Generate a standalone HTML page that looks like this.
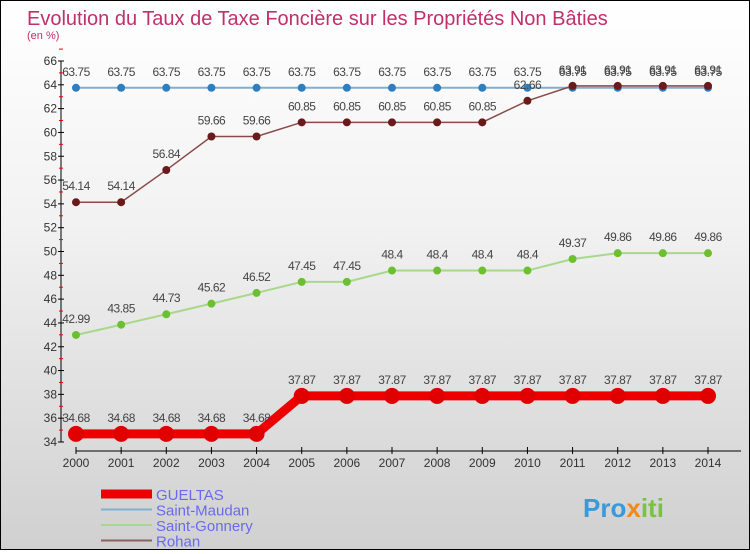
<!DOCTYPE html>
<html><head><meta charset="utf-8">
<style>
html,body{margin:0;padding:0}
body{width:750px;height:550px;overflow:hidden;font-family:"Liberation Sans",sans-serif}
#wrap{position:relative;width:748px;height:548px;border:1px solid #000;background:linear-gradient(#ffffff,#f2f2f2 40%,#d0d0d0)}
</style></head><body>
<div id="wrap">
<svg id="chart" width="748" height="548" xmlns="http://www.w3.org/2000/svg">
<text x="26" y="24" font-size="20" fill="#c0306a">Evolution du Taux de Taxe Foncière sur les Propriétés Non Bâties</text>
<text x="26" y="38" font-size="11" fill="#c0306a">(en %)</text>
<g id="axes"></g>
<g id="series"></g>
<g id="legend"></g>
<text x="582" y="516" font-size="26" font-weight="bold" fill="#3a9ad9">Pro<tspan fill="#f08a20">x</tspan><tspan fill="#7cc242">iti</tspan></text>
</svg>
</div>
<script>
const years=[2000,2001,2002,2003,2004,2005,2006,2007,2008,2009,2010,2011,2012,2013,2014];
const gueltas=[34.68,34.68,34.68,34.68,34.68,37.87,37.87,37.87,37.87,37.87,37.87,37.87,37.87,37.87,37.87];
const saintMaudan=[63.75,63.75,63.75,63.75,63.75,63.75,63.75,63.75,63.75,63.75,63.75,63.75,63.75,63.75,63.75];
const saintGonnery=[42.99,43.85,44.73,45.62,46.52,47.45,47.45,48.4,48.4,48.4,48.4,49.37,49.86,49.86,49.86];
const rohan=[54.14,54.14,56.84,59.66,59.66,60.85,60.85,60.85,60.85,60.85,62.66,63.91,63.91,63.91,63.91];
const yTicks=[34,36,38,40,42,44,46,48,50,52,54,56,58,60,62,64,66];
const NS="http://www.w3.org/2000/svg";
const X0=75,X1=707,yMin=34,yMax=66,Y0=441,Y1=60;
const xs=i=>X0+(X1-X0)*i/(years.length-1);
const ys=v=>Y0-(v-yMin)*(Y0-Y1)/(yMax-yMin);
function mk(tag,attrs,parent){const e=document.createElementNS(NS,tag);for(const k in attrs)e.setAttribute(k,attrs[k]);parent.appendChild(e);return e;}
const axes=document.getElementById('axes');
let ax=mk('line',{x1:60,y1:Y1,x2:60,y2:Y0,stroke:'#000','stroke-width':1},axes);


yTicks.forEach(t=>{
 const y=ys(t);
 const l=mk('line',{x1:57,y1:y,x2:63,y2:y,stroke:'#000'},axes);
 
 
 const m=mk('line',{x1:58,y1:ys(t+1),x2:62,y2:ys(t+1),stroke:'#e00'},axes);
 
 
 const tx=mk('text',{x:56,y:y+4,'font-size':12,'text-anchor':'end',fill:'#333'},axes);
 tx.textContent=t;
 
 
});
let xa=mk('line',{x1:X0,y1:450,x2:740,y2:450,stroke:'#000'},axes);


years.forEach((yr,i)=>{
 const x=xs(i);
 const l=mk('line',{x1:x,y1:446,x2:x,y2:453,stroke:'#000'},axes);
 
 
 const t=mk('text',{x:x,y:466,'font-size':12,'text-anchor':'middle',fill:'#333'},axes);
 t.textContent=yr;
 
 
});
const seriesG=document.getElementById('series');
const series=[
 {name:'saint-maudan',data:saintMaudan,color:'#7fb0d0',dot:'#2f7fc0',w:2,r:4},
 {name:'saint-gonnery',data:saintGonnery,color:'#a8d88a',dot:'#6cc030',w:2,r:4},
 {name:'rohan',data:rohan,color:'#8b4a4a',dot:'#6a1a1a',w:1.5,r:4},
 {name:'gueltas',data:gueltas,color:'#ee0000',dot:'#e00000',w:9,r:8}
];
series.forEach(s=>{
 const g=mk('g',{},seriesG);
 
 
 const p=mk('polyline',{points:s.data.map((v,i)=>xs(i)+','+ys(v)).join(' '),fill:'none',stroke:s.color,'stroke-width':s.w},g);
 
 
 s.data.forEach((v,i)=>{
  const c=mk('circle',{cx:xs(i),cy:ys(v),r:s.r,fill:s.dot},g);
  
  
  const t=mk('text',{x:xs(i),y:ys(v)-12,'font-size':12,'text-anchor':'middle',fill:'#444','letter-spacing':'-0.5'},g);
  t.textContent=String(v);
  
  
 });
});
const lg=document.getElementById('legend');
const leg=[['GUELTAS','#ee0000',9],['Saint-Maudan','#7fb0d0',2],['Saint-Gonnery','#a8d88a',2],['Rohan','#8b6060',2]];
leg.forEach((e,i)=>{
 const y=493+i*15.5;
 const l=mk('line',{x1:100,y1:y,x2:151,y2:y,stroke:e[1],'stroke-width':e[2]},lg);
 
 
 const t=mk('text',{x:155,y:y+6,'font-size':15,fill:'#6a6aee'},lg);
 t.textContent=e[0];
 
 
});
</script>
</body></html>
